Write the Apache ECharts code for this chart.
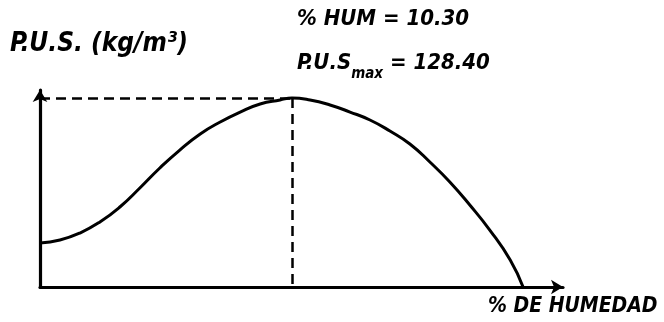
<!DOCTYPE html>
<html>
<head>
<meta charset="utf-8">
<script src="https://cdn.jsdelivr.net/npm/echarts@6/dist/echarts.min.js"></script>
<style>
  html, body { margin: 0; padding: 0; background: #fff; }
  #chart { width: 664px; height: 322px; }
</style>
</head>
<body>
<div id="chart"></div>
<script>
// Compaction curve: dry unit weight vs. moisture content
const humedad = [5.00, 5.42, 5.84, 6.26, 6.68, 7.10, 7.52, 7.94, 8.37, 8.79, 9.21, 9.63, 10.05, 10.30,
                 10.68, 11.10, 11.52, 11.94, 12.36, 12.78, 13.20, 13.62, 14.04, 14.46, 14.89, 15.16];
const pus = [106.61, 107.06, 108.11, 109.77, 112.02, 114.87, 117.88, 120.58, 122.99, 124.79, 126.29, 127.50, 128.10, 128.40,
             128.10, 127.35, 126.29, 125.09, 123.44, 121.49, 118.78, 115.78, 112.32, 108.56, 104.06, 100.00];

// Optimum point
const humOptima = 10.30;
const pusMax = 128.40;

// Axis extents
const xRange = [5, 16];
const yRange = [100, 129.6];

const FONT = '"DejaVu Sans Condensed", "DejaVu Sans", sans-serif';

const chart = echarts.init(document.getElementById('chart'), null, { renderer: 'canvas' });

const axisCommon = {
  axisLabel: { show: false },
  axisTick: { show: false },
  splitLine: { show: false },
  axisLine: {
    show: true,
    symbol: ['none', 'arrow'],
    symbolSize: [11, 12],
    lineStyle: { color: '#000', width: 3.2 }
  }
};

chart.setOption({
  animation: false,
  backgroundColor: '#fff',
  grid: { left: 40, right: 101, top: 90, bottom: 35 },
  xAxis: Object.assign({ type: 'value', min: xRange[0], max: xRange[1] }, axisCommon),
  yAxis: Object.assign({ type: 'value', min: yRange[0], max: yRange[1] }, axisCommon),
  series: [{
    type: 'line',
    data: humedad.map((h, i) => [h, pus[i]]),
    smooth: 0.5,
    symbol: 'none',
    lineStyle: { color: '#000', width: 3 },
    markLine: {
      silent: true,
      symbol: 'none',
      label: { show: false },
      lineStyle: { color: '#000', width: 2.5, type: [10, 6] },
      data: [
        [{ coord: [xRange[0], pusMax] }, { coord: [humOptima, pusMax] }],
        [{ coord: [humOptima, pusMax] }, { coord: [humOptima, yRange[0]] }]
      ]
    }
  }],
  graphic: [
    {
      type: 'text', left: 10, top: 31,
      style: {
        text: 'P.U.S. (kg/m³)',
        font: 'italic bold 26px ' + FONT,
        fill: '#000'
      }
    },
    {
      type: 'text', left: 297, top: 8,
      style: {
        text: '% HUM = ' + humOptima.toFixed(2),
        font: 'italic bold 22px ' + FONT,
        fill: '#000'
      }
    },
    {
      type: 'text', left: 297, top: 52,
      style: {
        text: '{a|P.U.S}{s|max}{a| = ' + pusMax.toFixed(2) + '}',
        fill: '#000',
        rich: {
          a: { font: 'italic bold 22px ' + FONT, fill: '#000', verticalAlign: 'top', lineHeight: 30 },
          s: { font: 'italic bold 15px ' + FONT, fill: '#000', verticalAlign: 'bottom', lineHeight: 30, padding: [12, 0, 0, 0] }
        }
      }
    },
    {
      type: 'text', left: 488, top: 296,
      style: {
        text: '% DE HUMEDAD',
        font: 'italic bold 21px ' + FONT,
        fill: '#000'
      }
    }
  ]
});
</script>
</body>
</html>
